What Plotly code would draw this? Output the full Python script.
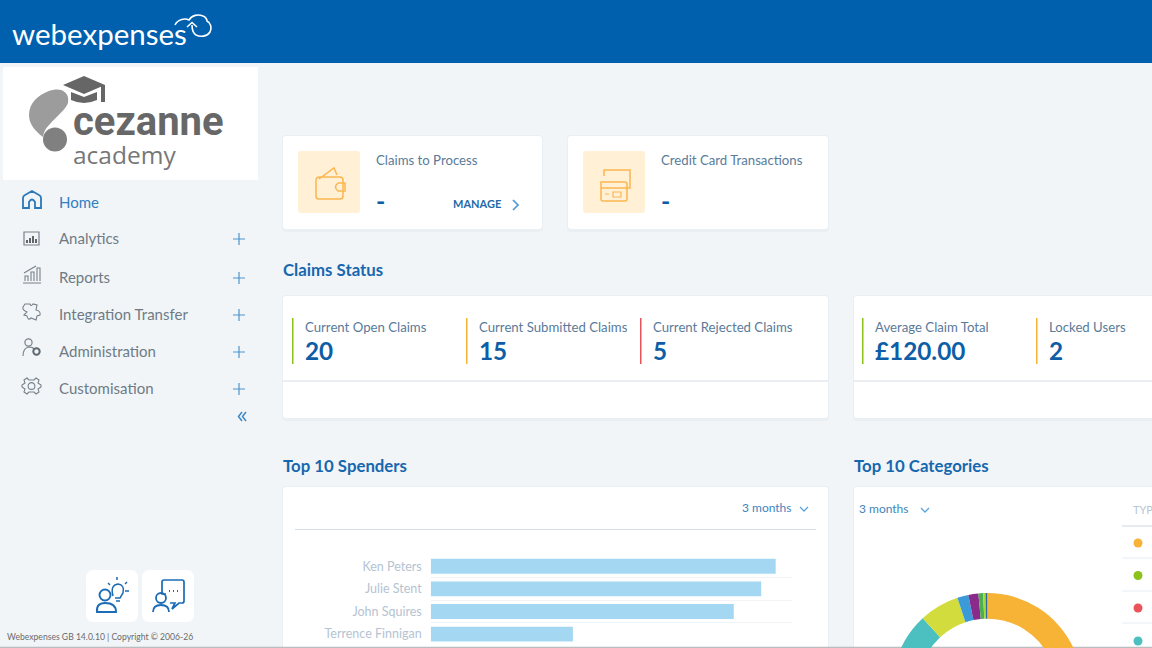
# -*- coding: utf-8 -*-
''' Webexpenses dashboard: top 10 spenders bars and top 10 categories donut,
with the page furniture around them. The page runs on below the window.'''
import re
import plotly.graph_objects as go

W, H = 1152, 800  # the page is taller than the 648 px window
FONT = "Lato"

spender_names = ["Ken Peters", "Julie Stent", "John Squires", "Terrence Finnigan"]
spender_values = [2387, 2287, 2097, 984]

category_labels = ["Type 1", "Type 2", "Type 3", "Type 4", "Type 5",
                   "Type 6", "Type 7", "Type 8", "Type 9", "Type 10"]
category_values = [36.0, 25.0, 17.2, 9.9, 6.8, 1.9, 1.7, 0.8, 0.4, 0.3]
category_colors = ["#F6B335", "#8CC21C", "#E8545A", "#4CBFC0", "#D2DC3C",
                   "#3A9BD8", "#8A2A8A", "#4CAF50", "#A5D63A", "#2D6A9F"]

nav_labels = ["Analytics", "Reports", "Integration Transfer", "Administration", "Customisation"]
status_labels = ["Current Open Claims", "Current Submitted Claims", "Current Rejected Claims",
                 "Average Claim Total", "Locked Users"]
status_values = ["20", "15", "5", "£120.00", "2"]
status_colors = ["#8CC21C", "#F6B335", "#E8545A", "#8CC21C", "#F6B335"]

BLUE = "#0060AE"
TITLE = "#1767AE"
ICON = "#1B6CB5"
GREY_ICON = "#77818A"
NUM = "#0D5EA6"
ORANGE_ICON = "#FBB650"


def px(x):
    return x / W


def py(y):
    return 1 - y / H


def to_paper(path):
    # pixel path (absolute M L C Q Z only) to paper fractions
    nums = iter(range(10 ** 6))

    def conv(m):
        v = float(m.group(0))
        return f"{px(v):.5f}" if next(nums) % 2 == 0 else f"{py(v):.5f}"
    return re.sub(r"-?\d+\.?\d*", conv, path)


shapes = []
annotations = []


def path(d, fill="rgba(0,0,0,0)", line=None, width=1.5):
    shapes.append(dict(type="path", xref="paper", yref="paper", layer="below", path=to_paper(d),
                       fillcolor=fill, line=dict(color=line or "rgba(0,0,0,0)", width=width)))


def rect(x0, y0, x1, y1, fill, r=0):
    if r:
        d = (f"M{x0 + r},{y0} L{x1 - r},{y0} Q{x1},{y0} {x1},{y0 + r} L{x1},{y1 - r} Q{x1},{y1} {x1 - r},{y1} "
             f"L{x0 + r},{y1} Q{x0},{y1} {x0},{y1 - r} L{x0},{y0 + r} Q{x0},{y0} {x0 + r},{y0} Z")
    else:
        d = f"M{x0},{y0} L{x1},{y0} L{x1},{y1} L{x0},{y1} Z"
    path(d, fill=fill)


def circle(cx, cy, r, fill="rgba(0,0,0,0)", line=None, width=1.5):
    shapes.append(dict(type="circle", xref="paper", yref="paper", layer="below",
                       x0=px(cx - r), x1=px(cx + r), y0=py(cy + r), y1=py(cy - r),
                       fillcolor=fill, line=dict(color=line or "rgba(0,0,0,0)", width=width)))


def text(x, y, s, size, color, bold=False, anchor="left", font=FONT):
    annotations.append(dict(xref="paper", yref="paper", x=px(x - 1), y=py(y), text=f"<b>{s}</b>" if bold else s,
                            showarrow=False, xanchor=anchor, yanchor="middle", borderpad=0,
                            font=dict(family=font, size=size, color=color)))


def card(x0, y0, x1, y1):
    rect(x0 - 1, y0 - 1, x1 + 1, y1 + 3, "rgba(40,70,100,0.03)", 4)
    rect(x0, y0, x1, y1, "#FFFFFF", 3)


def chevron_down(x, y):
    path(f"M{x - 4},{y - 2} L{x},{y + 2} L{x + 4},{y - 2}", line="#5AA5DC", width=1.3)


# header and logo panel
rect(0, 0, W, 63, BLUE)
text(12, 33, "webexpenses", 29.5, "#FFFFFF")
path("M175,25 C178,19 185,18 189,20 C192,15 198,14 203,16 C206,17 207,20 207,21 C211,23 212,28 210,32 "
     "C207,37 200,37 196,35 C193,33 192,30 192,25", line="#FFFFFF", width=1.6)
path("M187,27 L192,22.5 L197,27", line="#FFFFFF", width=1.6)

rect(3, 67, 258, 180, "#FFFFFF")
path("M49,91 C60,87 70,91 68,103 C66,109 57,116 50,124 C46,128 44,131 43,137 C35,131 29,124 29,115 C29,103 38,95 49,91 Z",
     fill="#9C9C9C")
circle(55, 139.5, 12, fill="#808080")
path("M63,85 L84,76 L105,85 L84,94 Z", fill="#666666")
path("M71,92 L84,97 L97,92 L97,100 Q84,106 71,100 Z", fill="#666666")
rect(101, 85, 105, 102, "#666666")
text(73, 122, "cezanne", 40, "#676767", bold=True, font="Roboto")
text(73, 154, "academy", 24.5, "#777777", font="Open Sans")

# left navigation
path("M23,208 L23,198 Q23,196 25,195 L32,191 L39,195 Q41,196 41,198 L41,208 L35,208 L35,202 Q32,197 29,202 L29,208 Z",
     line="#2A78B8", width=1.8)
text(59, 201.5, "Home", 15, "#2F7FC1")

for label, y in zip(nav_labels, [238, 277, 314, 351, 388]):
    text(59, y - 0.5, label, 15, "#6F7B84")
    path(f"M233,{y + 1} L245,{y + 1} M239,{y - 5} L239,{y + 7}", line="#4F94CF", width=1.2)
path("M24,232 L39,232 L39,245 L24,245 Z", line=GREY_ICON, width=1.2)
path("M27,243 L27,240 M30,243 L30,238 M33,243 L33,236 M36,243 L36,239", line="#555555", width=1.8)
path("M23,283 L41,283 M25,281 L25,276 L28,276 L28,281 M31,281 L31,272 L34,272 L34,281 M37,281 L37,268 L40,268 L40,281",
     line=GREY_ICON, width=1.1)
path("M24,273 L36,266", line=GREY_ICON, width=1.1)
path("M25,304 L30,304 Q31,307 33,304 L37,305 L36,310 Q41,311 40,315 L37,316 L36,320 L31,318 Q28,321 27,316 "
     "L24,315 L27,312 Q22,310 23,307 Z", line=GREY_ICON, width=1.1)
circle(28.5, 342.5, 3.6, line=GREY_ICON, width=1.2)
path("M23,356 Q23,348 29,347 Q33,347 34,349", line=GREY_ICON, width=1.2)
circle(36.5, 351.5, 3.2, line="#5F6870", width=2)
path("M27,378 L29,380 L34,380 L36,378 L39,380 L38,383 L41,385 L41,387 L38,389 L39,392 L36,394 L34,392 L29,392 "
     "L27,394 L24,392 L25,389 L22,387 L22,385 L25,383 L24,380 Z", line=GREY_ICON, width=1.1)
circle(31.5, 386, 3.4, line=GREY_ICON, width=1.1)
path("M242,412 L238.5,416.5 L242,421 M246,412 L242.5,416.5 L246,421", line="#3F87C4", width=1.5)

rect(86, 570, 138, 622, "#FFFFFF", 8)
rect(142, 570, 194, 622, "#FFFFFF", 8)
circle(105, 595, 5.5, line=ICON, width=1.9)
path("M97,612 Q96,603 105,603 Q116,603 116,612 Z", line=ICON, width=1.9)
path("M113,596 Q110,585 118,584 Q125,585 123,593 L120,598 L115,598 M116,601 L120,601", line=ICON, width=1.5)
path("M117,580 L117,577 M108,583 L110,585 M125,584 L127,582 M125,591 L129,591", line=ICON, width=1.5)
path("M166,594 L162,594 L162,582 Q162,580 164,580 L182,580 Q184,580 184,582 L184,601 Q184,603 182,603 L179,603 "
     "L172,609 L175,603 L170,603", line=ICON, width=1.7)
path("M169,591 L170,591 M173,591 L174,591 M177,591 L178,591", line=ICON, width=1.9)
circle(161, 598, 5, line=ICON, width=1.8)
path("M153,612 Q153,605 161,605 Q169,605 169,612", line=ICON, width=1.8)
text(7, 637, "Webexpenses GB 14.0.10 | Copyright © 2006-26", 8.6, "#6B6B6B")

# top cards
card(283, 136, 542, 229)
card(568, 136, 828, 229)
rect(298, 151, 360, 213, "#FFF0D6", 3)
rect(583, 151, 645, 213, "#FFF0D6", 3)
path("M319,179 L334,168 L337,175 M316,180 Q316,177 320,177 L340,177 Q343,177 343,180 L343,196 Q343,199 340,199 "
     "L319,199 Q316,199 316,196 Z", line=ORANGE_ICON)
path("M338,183 L345,183 L345,191 L338,191 Q333,187 338,183 Z", line=ORANGE_ICON)
path("M604,176 L604,170 L630,170 L630,188 L626,188", line=ORANGE_ICON)
path("M601,182 Q601,182 603,182 L625,182 Q627,182 627,184 L627,199 Q627,201 625,201 L603,201 Q601,201 601,199 Z M601,188 L627,188",
     line=ORANGE_ICON)
path("M613,192 L621,192 L621,197 L613,197 Z M605,194 L609,194", line=ORANGE_ICON, width=1.2)
text(376, 160, "Claims to Process", 13.2, "#5A7B9A")
text(661, 160, "Credit Card Transactions", 13.2, "#5A7B9A")
text(376, 200, "-", 25, NUM, bold=True)
text(661, 200, "-", 25, NUM, bold=True)
text(453, 203.5, "MANAGE", 11, "#1F6AA8", bold=True)
path("M513,200 L518,205 L513,210", line="#4D9AD4", width=1.7)

# claims status
text(283, 269.5, "Claims Status", 16.8, TITLE, bold=True)
card(283, 296, 828, 418)
card(854, 296, W + 5, 418)
path("M283,381 L828,381", line="#D5DDE5", width=1.2)
path("M854,381 L1152,381", line="#D5DDE5", width=1.2)
for label, value, color, x in zip(status_labels, status_values, status_colors, [292, 466, 640, 862, 1036]):
    rect(x, 318, x + 1.5, 364, color)
    text(x + 13, 326.5, label, 13.2, "#5A7B9A")
    text(x + 13, 350, value, 24.3, NUM, bold=True)

# chart cards
text(283, 465, "Top 10 Spenders", 16.8, TITLE, bold=True)
text(854, 465, "Top 10 Categories", 16.8, TITLE, bold=True)
card(283, 487, 828, H + 5)
card(854, 487, W + 5, H + 5)
text(742, 507, "3 months", 12, "#3E85BE")
chevron_down(804, 509)
path("M295,529.5 L816,529.5", line="#D5DDE5", width=1.2)
text(859, 508, "3 months", 12, "#3E85BE")
chevron_down(925, 510)
text(1133, 509, "TYPE", 11, "#B8C6D4")
path("M1122,526 L1152,526", line="#D5DDE5", width=1.2)
for y in [558, 591, 623]:
    path(f"M1122,{y} L1152,{y}", line="#E8EDF2", width=1)
for color, y in zip(category_colors, [543, 575.5, 608, 641]):
    circle(1138, y, 4.5, fill=color)

# bottom edge of the window
rect(0, 646.8, W, 648, "#B9BDC0")

fig = go.Figure()
fig.add_trace(go.Bar(x=spender_values, y=spender_names, orientation="h",
                     marker=dict(color="#A4D8F2", line=dict(width=0)), hoverinfo="x+y"))
fig.add_trace(go.Pie(labels=category_labels, values=category_values, sort=False, direction="clockwise",
                     rotation=0, hole=0.73, textinfo="none", showlegend=False,
                     marker=dict(colors=category_colors, line=dict(width=0)),
                     domain=dict(x=[px(892.3), px(1082.3)], y=[py(783), py(593)])))

fig.update_layout(width=W, height=H, autosize=False, margin=dict(l=0, r=0, t=0, b=0),
                  paper_bgcolor="#F1F5F8", plot_bgcolor="rgba(0,0,0,0)", showlegend=False, bargap=0.34,
                  font=dict(family=FONT), shapes=shapes, annotations=annotations)
fig.update_xaxes(domain=[px(430.7), px(792)], range=[0, 2500], visible=False, fixedrange=True)
fig.update_yaxes(domain=[py(645.4), py(555)], type="category", range=[3.5, -0.5], tickson="boundaries",
                 showgrid=True, gridcolor="#F1F3F6", gridwidth=1, ticks="", ticklabelstandoff=8, zeroline=False,
                 showline=False, fixedrange=True, tickfont=dict(family=FONT, size=12.5, color="#B5C3D2"))

# no page margin, and the part of the page under the window stays out of reach
fig.write_html("out.html", config=dict(displayModeBar=False),
               post_script="document.body.style.margin='0';document.body.style.overflow='hidden';"
                           "document.documentElement.style.overflow='hidden';")
